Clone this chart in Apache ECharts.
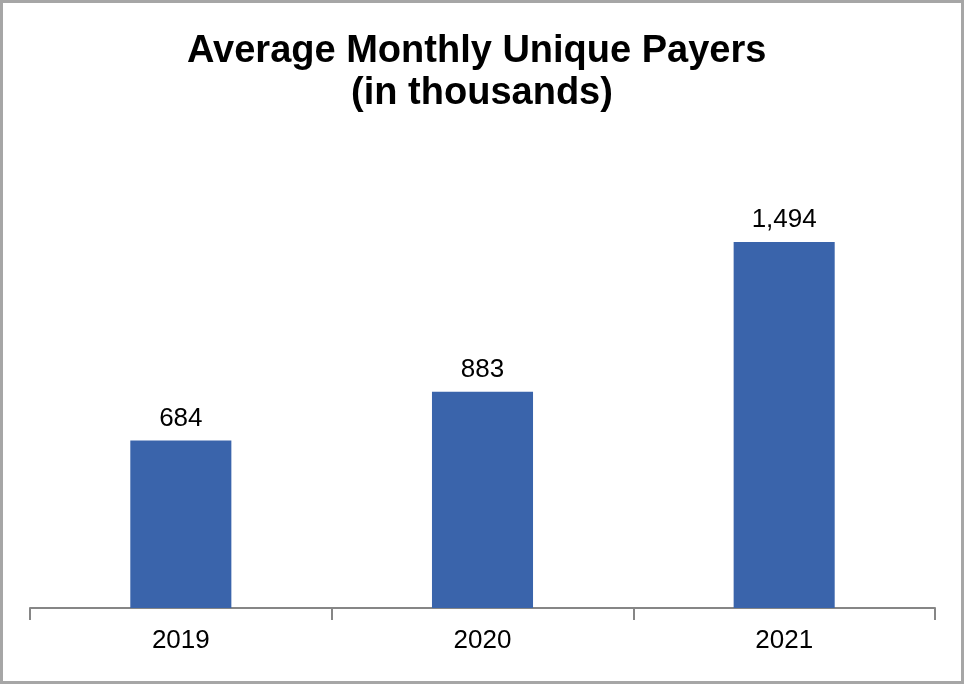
<!DOCTYPE html>
<html><head><meta charset="utf-8">
<script src="https://cdn.jsdelivr.net/npm/echarts@6/dist/echarts.min.js"></script>
<style>html,body{margin:0;padding:0;background:#fff}#c{width:964px;height:684px;box-sizing:border-box;border:3px solid #a6a6a6}</style>
</head><body><div id="c"></div>
<script>
const categories = ['2019', '2020', '2021'];
const payers = [684, 883, 1494];
const titleText = 'Average Monthly Unique Payers \n(in thousands)';

const chart = echarts.init(document.getElementById('c'), null, {renderer: 'canvas'});
chart.setOption({
  animation: false,
  title: {
    text: titleText, left: 'center', top: 23,
    textStyle: {fontFamily: 'Liberation Sans, Arial', fontWeight: 'bold', fontSize: 38, color: '#000', lineHeight: 42}
  },
  grid: {left: 27, right: 26, top: 115, bottom: 73},
  xAxis: {
    type: 'category', data: categories,
    axisLine: {lineStyle: {color: '#868686', width: 2}},
    axisTick: {show: true, length: 12, lineStyle: {color: '#868686', width: 2}},
    axisLabel: {fontFamily: 'Liberation Sans, Arial', fontSize: 26, color: '#000', margin: 20}
  },
  yAxis: {type: 'value', min: 0, max: 2000, show: false, splitLine: {show: false}},
  series: [{
    type: 'bar', data: payers, barWidth: '33.5%',
    itemStyle: {color: '#3A64AB'},
    label: {
      show: true, position: 'top', distance: 9,
      fontFamily: 'Liberation Sans, Arial', fontSize: 26, color: '#000',
      formatter: p => p.value.toLocaleString('en-US')
    }
  }]
});
</script></body></html>
